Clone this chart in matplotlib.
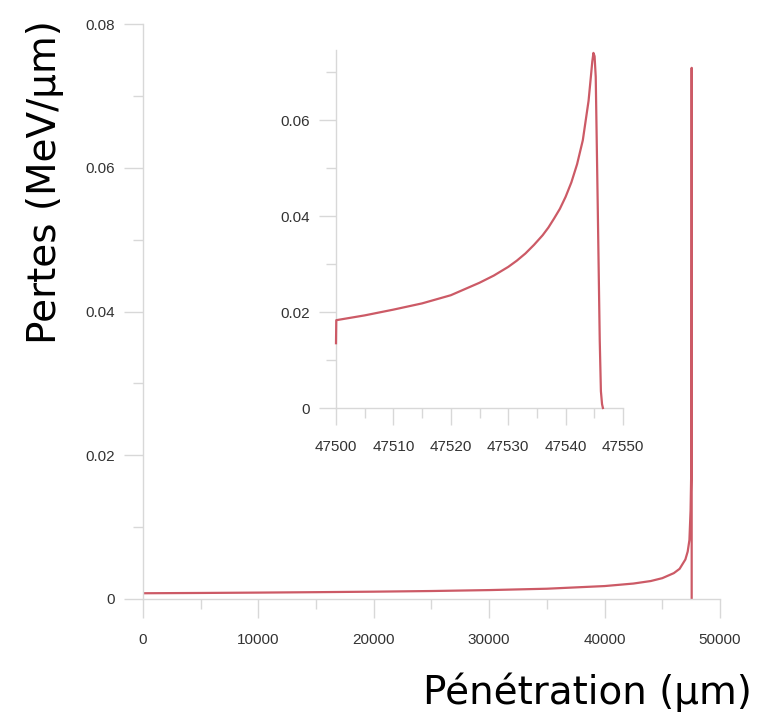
import matplotlib.pyplot as plt
from matplotlib.ticker import MultipleLocator, FuncFormatter

# Courbe complete (penetration en um, pertes en MeV/um)
main_x = [0, 5000, 10000, 15000, 20000, 25000, 30000, 35000, 40000, 42500,
          44000, 45000, 46000, 46500, 47000, 47200, 47350, 47450, 47500,
          47520, 47535, 47542, 47544.8, 47545.5, 47546.5]
main_y = [0.00080, 0.00084, 0.00089, 0.00095, 0.00102, 0.00111, 0.00124,
          0.00143, 0.00180, 0.00215, 0.00250, 0.00290, 0.00360, 0.00420,
          0.00550, 0.00660, 0.00820, 0.01230, 0.01700, 0.02350, 0.03460,
          0.05000, 0.07390, 0.04000, 0.0]

# Zoom sur le pic de Bragg
inset_x = [47500, 47500.05, 47505, 47510, 47515, 47520, 47525, 47527.5,
           47530, 47531.5, 47533, 47534.5, 47536, 47537, 47538, 47539,
           47540, 47541, 47542, 47543, 47544, 47544.4, 47544.65, 47544.85,
           47545.05, 47545.25, 47545.6, 47545.95, 47546.15, 47546.35, 47546.5]
inset_y = [0.0135, 0.0183, 0.0193, 0.0205, 0.0218, 0.0235, 0.0261, 0.0276,
           0.0294, 0.0307, 0.0322, 0.0340, 0.0360, 0.0376, 0.0395, 0.0415,
           0.0440, 0.0470, 0.0508, 0.0558, 0.0640, 0.0690, 0.0722, 0.0740,
           0.0733, 0.0690, 0.0420, 0.0140, 0.0035, 0.0008, 0.0]

line_color = '#cc5a66'
axis_color = '#d8d8d8'
label_color = '#333333'


def fmt(v, pos):
    if abs(v) < 1e-12:
        return '0'
    if v >= 1:
        return f'{v:.0f}'
    return f'{v:.2f}'


def style_axes(ax, major_len, minor_len):
    for side in ['top', 'right']:
        ax.spines[side].set_visible(False)
    for side in ['left', 'bottom']:
        ax.spines[side].set_color(axis_color)
        ax.spines[side].set_linewidth(1.0)
    ax.tick_params(which='major', length=major_len, width=1.0, color=axis_color,
                   labelcolor=label_color, labelsize=11, pad=7)
    ax.tick_params(axis='x', which='major', pad=11)
    ax.tick_params(which='minor', length=minor_len, width=1.0, color=axis_color)
    ax.xaxis.set_major_formatter(FuncFormatter(fmt))
    ax.yaxis.set_major_formatter(FuncFormatter(fmt))
    for lab in ax.get_xticklabels() + ax.get_yticklabels():
        lab.set_family('Liberation Sans')


fig = plt.figure(figsize=(7.67, 7.19), dpi=100)

ax = fig.add_axes([143 / 767, 1 - 599 / 719, 577 / 767, 575 / 719])
ax.plot(main_x, main_y, color=line_color, lw=1.6)
ax.set_xlim(0, 50000)
ax.set_ylim(0, 0.08)
ax.xaxis.set_major_locator(MultipleLocator(10000))
ax.xaxis.set_minor_locator(MultipleLocator(5000))
ax.yaxis.set_major_locator(MultipleLocator(0.02))
ax.yaxis.set_minor_locator(MultipleLocator(0.01))
style_axes(ax, 13.5, 7)

axin = fig.add_axes([336 / 767, 1 - 408 / 719, 287 / 767, 358 / 719])
axin.plot(inset_x, inset_y, color=line_color, lw=1.6, clip_on=False, zorder=5)
axin.set_xlim(47500, 47550)
axin.set_ylim(0, 0.0746)
axin.xaxis.set_major_locator(MultipleLocator(10))
axin.xaxis.set_minor_locator(MultipleLocator(5))
axin.yaxis.set_major_locator(MultipleLocator(0.02))
axin.yaxis.set_minor_locator(MultipleLocator(0.01))
axin.patch.set_alpha(0)
style_axes(axin, 12, 7)

fig.text(45 / 767, 1 - 182 / 719, 'Pertes (MeV/μm)', rotation=90,
         ha='center', va='center', fontsize=28, color='black')
fig.text(752 / 767, 1 - 692 / 719, 'Pénétration (μm)',
         ha='right', va='center', fontsize=28, color='black')

fig.savefig('out.png', dpi=100)
